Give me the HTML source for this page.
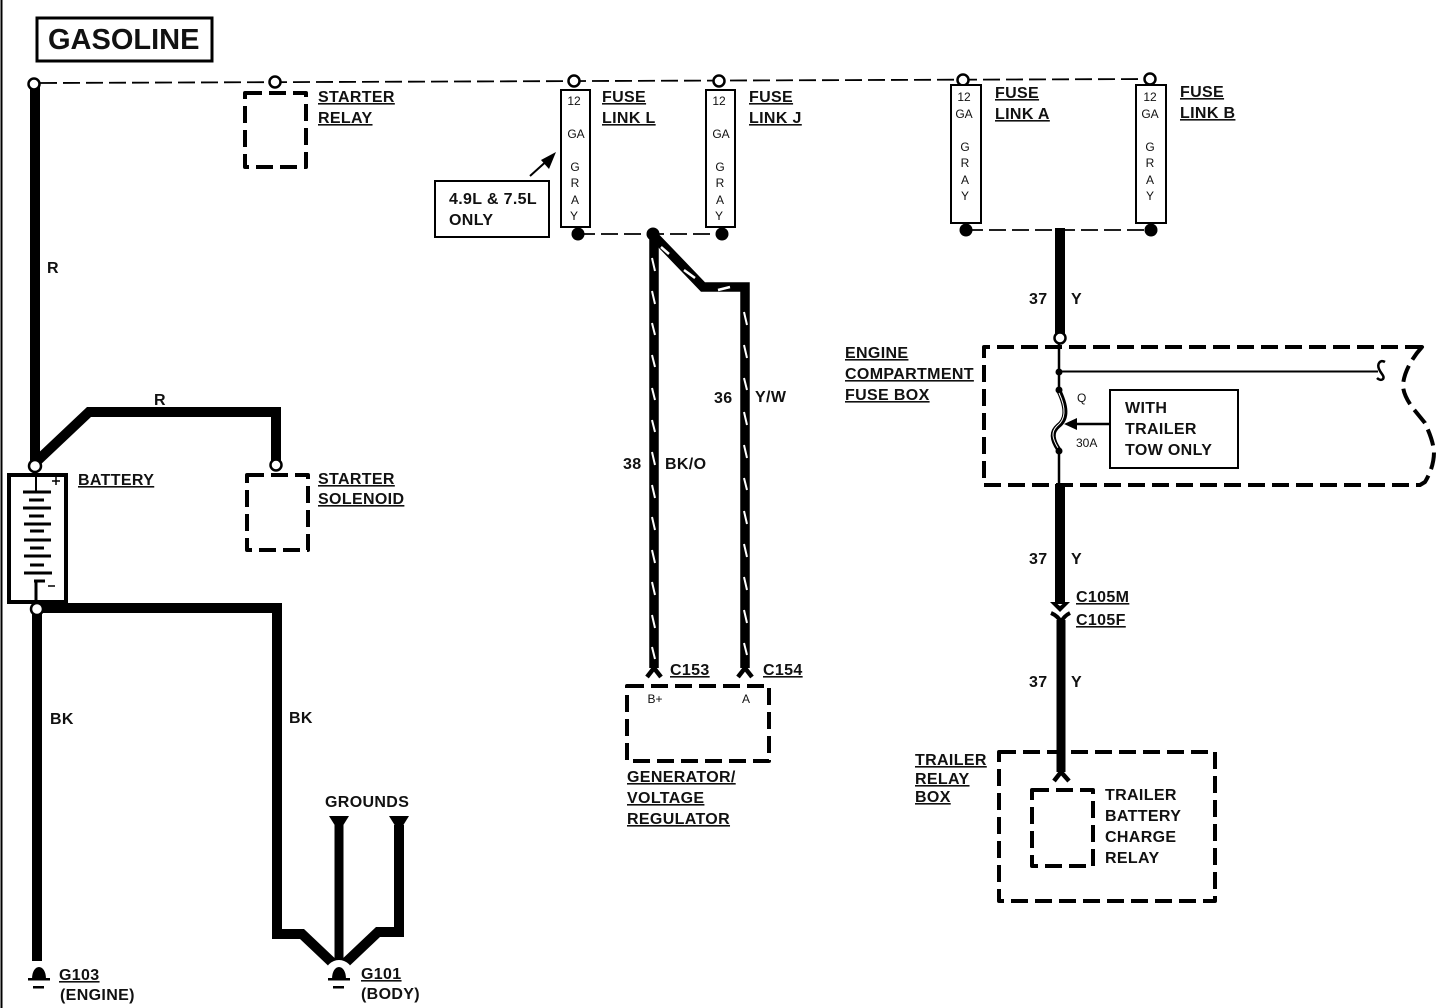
<!DOCTYPE html>
<html>
<head>
<meta charset="utf-8">
<title>Gasoline wiring diagram</title>
<style>
html,body{margin:0;padding:0;background:#fff;width:1440px;height:1008px;overflow:hidden}
svg{display:block}
text{font-family:"Liberation Sans",sans-serif;fill:#111}
.b{font-weight:bold;font-size:16px;letter-spacing:.35px}
.u{text-decoration:underline}
.s{font-size:12px;text-anchor:middle}
.w{fill:none;stroke:#000;stroke-linejoin:miter}
.d{fill:none;stroke:#000;stroke-width:4;stroke-dasharray:17 7;stroke-linejoin:round}
.c{fill:#fff;stroke:#000;stroke-width:2.5}
.f{fill:#fff;stroke:#000}
</style>
</head>
<body>
<svg width="1440" height="1008" viewBox="0 0 1440 1008" xmlns="http://www.w3.org/2000/svg">
<rect width="1440" height="1008" fill="#fff"/>
<!-- left page border -->
<line x1="1.5" y1="0" x2="1.5" y2="1008" stroke="#000" stroke-width="2"/>
<!-- title -->
<rect x="37" y="18" width="175" height="43" fill="#fff" stroke="#000" stroke-width="3"/>
<text x="48" y="49" font-size="29" font-weight="bold">GASOLINE</text>

<!-- top dashed bus -->
<line x1="40" y1="83" x2="1150" y2="79" stroke="#000" stroke-width="1.8" stroke-dasharray="17 6"/>

<!-- main thick wires left -->
<path class="w" stroke-width="10" d="M35 84V465"/>
<path class="w" stroke-width="10" d="M35 463L89 412H276V464"/>
<path class="w" stroke-width="10" d="M37 608H277V934H302L340 970"/>
<path class="w" stroke-width="10" d="M37 608V961"/>
<path class="w" stroke-width="9" d="M339 825V965"/>
<path class="w" stroke-width="10" d="M399 825V932H378L340 968"/>

<!-- ground triangles -->
<polygon points="329,816 349,816 339,832" fill="#000"/>
<polygon points="389,816 409,816 399,832" fill="#000"/>

<!-- ground symbols -->
<circle cx="339" cy="974" r="14" fill="#fff"/>
<path d="M332 979C332 963 346 963 346 979z" fill="#000"/>
<rect x="328" y="978" width="22" height="2.5" fill="#000"/>
<rect x="333" y="986" width="11" height="2.5" fill="#000"/>
<path d="M32 979C32 963 46 963 46 979z" fill="#000"/>
<rect x="28" y="978" width="22" height="2.5" fill="#000"/>
<rect x="33" y="986" width="11" height="2.5" fill="#000"/>

<!-- nodes on bus -->
<circle class="c" cx="34" cy="84" r="5.5"/>
<circle class="c" cx="275" cy="82" r="5.5"/>
<circle class="c" cx="574" cy="81" r="5.5"/>
<circle class="c" cx="719" cy="81" r="5.5"/>
<circle class="c" cx="963" cy="80" r="5.5"/>
<circle class="c" cx="1150" cy="79" r="5.5"/>

<!-- dashed boxes -->
<rect class="d" x="245" y="93" width="61" height="74"/>
<rect class="d" x="247" y="475" width="61" height="75"/>

<!-- battery -->
<rect x="9" y="475" width="57" height="127" fill="#fff" stroke="#000" stroke-width="4"/>
<g stroke="#000" fill="none">
<path stroke-width="2" d="M36 476V491"/>
<path stroke-width="3" d="M23 492H51M29 500H44M23 508H51M29 516H44M24 524H51M30 531H44M24 540H51M30 548H44M24 556H51M30 565H44M24 573H52M34 581H45"/>
<path stroke-width="3" d="M36 582V601"/>
<path stroke-width="1.5" d="M52 481H60M56 477V485M48 586H55"/>
</g>
<circle class="c" cx="35" cy="466" r="6"/>
<circle class="c" cx="37" cy="609" r="6"/>
<circle class="c" cx="276" cy="465" r="5.5"/>

<!-- fuse links -->
<rect class="f" x="561" y="90" width="29" height="137" stroke-width="2"/>
<rect class="f" x="706" y="90" width="29" height="137" stroke-width="2"/>
<rect class="f" x="951" y="85" width="30" height="138" stroke-width="2"/>
<rect class="f" x="1136" y="85" width="30" height="138" stroke-width="2"/>
<g>
<text class="s" x="574" y="105">12</text><text class="s" x="576" y="138">GA</text><text class="s" x="575" y="171">G</text><text class="s" x="575" y="187">R</text><text class="s" x="575" y="204">A</text><text class="s" x="574" y="220">Y</text>
<text class="s" x="719" y="105">12</text><text class="s" x="721" y="138">GA</text><text class="s" x="720" y="171">G</text><text class="s" x="720" y="187">R</text><text class="s" x="720" y="204">A</text><text class="s" x="719" y="220">Y</text>
<text class="s" x="964" y="101">12</text><text class="s" x="964" y="118">GA</text><text class="s" x="965" y="151">G</text><text class="s" x="965" y="167">R</text><text class="s" x="965" y="184">A</text><text class="s" x="965" y="200">Y</text>
<text class="s" x="1150" y="101">12</text><text class="s" x="1150" y="118">GA</text><text class="s" x="1150" y="151">G</text><text class="s" x="1150" y="167">R</text><text class="s" x="1150" y="184">A</text><text class="s" x="1150" y="200">Y</text>
</g>
<line x1="578" y1="234" x2="722" y2="234" stroke="#000" stroke-width="1.8" stroke-dasharray="17 6"/>
<line x1="966" y1="230" x2="1151" y2="230" stroke="#000" stroke-width="1.8" stroke-dasharray="17 6"/>
<circle cx="578" cy="234" r="6.5"/>
<circle cx="722" cy="234" r="6.5"/>
<circle cx="653" cy="234" r="6.5"/>
<circle cx="966" cy="230" r="6.5"/>
<circle cx="1151" cy="230" r="6.5"/>

<!-- callout -->
<rect x="435" y="181" width="114" height="56" fill="#fff" stroke="#000" stroke-width="2"/>
<text x="449" y="204" class="b">4.9L &amp; 7.5L</text>
<text x="449" y="225" class="b">ONLY</text>
<line x1="530" y1="176" x2="550" y2="158" stroke="#000" stroke-width="2"/>
<polygon points="556,152 541,160 549,169" fill="#000"/>

<!-- generator wires (striped) -->
<path class="w" stroke-width="9.5" d="M654 234V668"/>
<path class="w" stroke-width="9.5" d="M654 236L703 287H745V668"/>
<path fill="none" stroke="#fff" stroke-width="2" d="M652 258l3 13M652 291l3 13M652 323l3 12M652 355l3 12M652 388l3 12M652 420l3 12M652 452l3 13M652 485l3 13M652 517l3 13M652 550l3 13M652 582l3 13M652 615l3 13M652 647l3 12"/>
<path fill="none" stroke="#fff" stroke-width="2" d="M744 312l3 13M744 345l3 13M744 378l3 12M744 412l3 13M744 445l3 13M744 478l3 12M744 511l3 13M744 544l3 13M744 577l3 13M744 610l3 13M744 643l3 12"/>
<path fill="none" stroke="#fff" stroke-width="2.5" d="M661 247L669 254M684 270L695 278M718 290L730 287"/>

<!-- connector forks -->
<path class="w" stroke-width="4.5" d="M647 677L654 668L661 677"/>
<path class="w" stroke-width="4.5" d="M738 677L745 668L752 677"/>
<rect class="d" x="627" y="686" width="142" height="75"/>
<text x="655" y="703" font-size="12" text-anchor="middle">B+</text>
<text x="746" y="703" font-size="12" text-anchor="middle">A</text>

<!-- right wire -->
<path class="w" stroke-width="10" d="M1060 228V334"/>
<path class="w" stroke-width="10" d="M1060 484V604"/>
<path class="w" stroke-width="9" d="M1061 620V772"/>
<circle class="c" cx="1060" cy="338" r="5.5"/>
<polygon points="1050,602 1055,602 1060,606 1065,602 1070,602 1060,612" fill="#000"/>
<path class="w" stroke-width="4" d="M1051 613Q1058 616 1061 622Q1064 616 1070 613"/>
<path class="w" stroke-width="4.5" d="M1054 781L1061 772L1069 781"/>

<!-- engine compartment fuse box -->
<path class="d" d="M1422 347H984V485H1420L1425 482C1431 472 1434 462 1434 452C1433 440 1428 430 1425 423L1412 407C1407 400 1403 392 1403 385C1404 372 1412 358 1422 347Z" stroke-dasharray="16 7"/>
<path fill="none" stroke="#000" stroke-width="2.5" d="M1059 344V372"/>
<path fill="none" stroke="#000" stroke-width="2" d="M1059 371.5H1378"/>
<path fill="none" stroke="#000" stroke-width="2.5" d="M1385 362C1380 359 1377 364 1379 369C1381 374 1385 376 1383 379C1381 381 1378 379 1377 378"/>
<circle cx="1059" cy="372" r="3.5"/>
<path fill="none" stroke="#000" stroke-width="2.5" d="M1059 372V390"/>
<circle cx="1059" cy="390" r="3.5"/>
<path fill="none" stroke="#000" stroke-width="5" d="M1059 391C1068 410 1066 420 1058 426C1051 432 1052 440 1059 450"/>
<path fill="none" stroke="#fff" stroke-width="1" d="M1059 393C1067 410 1065 420 1057 426C1051 432 1052 438 1058 448"/>
<circle cx="1059" cy="451" r="3.5"/>
<path fill="none" stroke="#000" stroke-width="2.5" d="M1059 451V484"/>
<text x="1077" y="402" font-size="12">Q</text>
<text x="1076" y="447" font-size="12">30A</text>
<rect x="1110" y="390" width="128" height="78" fill="#fff" stroke="#000" stroke-width="2"/>
<text x="1125" y="413" class="b">WITH</text>
<text x="1125" y="434" class="b">TRAILER</text>
<text x="1125" y="455" class="b">TOW ONLY</text>
<line x1="1110" y1="424" x2="1074" y2="424" stroke="#000" stroke-width="2.5"/>
<polygon points="1064,424 1077,418 1077,430" fill="#000"/>

<!-- trailer relay box -->
<rect class="d" x="999" y="752" width="216" height="149" stroke-dasharray="16 7"/>
<rect class="d" x="1032" y="790" width="61" height="76" stroke-dasharray="14 6"/>
<text x="1105" y="800" class="b">TRAILER</text>
<text x="1105" y="821" class="b">BATTERY</text>
<text x="1105" y="842" class="b">CHARGE</text>
<text x="1105" y="863" class="b">RELAY</text>

<!-- labels -->
<g>
<text class="b u" x="318" y="102">STARTER</text>
<text class="b u" x="318" y="123">RELAY</text>
<text class="b u" x="602" y="102">FUSE</text>
<text class="b u" x="602" y="123">LINK L</text>
<text class="b u" x="749" y="102">FUSE</text>
<text class="b u" x="749" y="123">LINK J</text>
<text class="b u" x="995" y="98">FUSE</text>
<text class="b u" x="995" y="119">LINK A</text>
<text class="b u" x="1180" y="97">FUSE</text>
<text class="b u" x="1180" y="118">LINK B</text>
<text class="b u" x="78" y="485">BATTERY</text>
<text class="b u" x="318" y="484">STARTER</text>
<text class="b u" x="318" y="504">SOLENOID</text>
<text class="b u" x="845" y="358">ENGINE</text>
<text class="b u" x="845" y="379">COMPARTMENT</text>
<text class="b u" x="845" y="400">FUSE BOX</text>
<text class="b u" x="1076" y="602">C105M</text>
<text class="b u" x="1076" y="625">C105F</text>
<text class="b u" x="670" y="675">C153</text>
<text class="b u" x="763" y="675">C154</text>
<text class="b u" x="627" y="782">GENERATOR/</text>
<text class="b u" x="627" y="803">VOLTAGE</text>
<text class="b u" x="627" y="824">REGULATOR</text>
<text class="b u" x="915" y="765">TRAILER</text>
<text class="b u" x="915" y="784">RELAY</text>
<text class="b u" x="915" y="802">BOX</text>
<text class="b u" x="59" y="980">G103</text>
<text class="b" x="60" y="1000">(ENGINE)</text>
<text class="b u" x="361" y="979">G101</text>
<text class="b" x="361" y="999">(BODY)</text>
<text class="b" x="325" y="807">GROUNDS</text>
<text class="b" x="47" y="273">R</text>
<text class="b" x="154" y="405">R</text>
<text class="b" x="50" y="724">BK</text>
<text class="b" x="289" y="723">BK</text>
<text class="b" x="623" y="469">38</text>
<text class="b" x="665" y="469">BK/O</text>
<text class="b" x="714" y="403">36</text>
<text class="b" x="755" y="402">Y/W</text>
<text class="b" x="1029" y="304">37</text>
<text class="b" x="1071" y="304">Y</text>
<text class="b" x="1029" y="564">37</text>
<text class="b" x="1071" y="564">Y</text>
<text class="b" x="1029" y="687">37</text>
<text class="b" x="1071" y="687">Y</text>
</g>
</svg>
</body>
</html>
